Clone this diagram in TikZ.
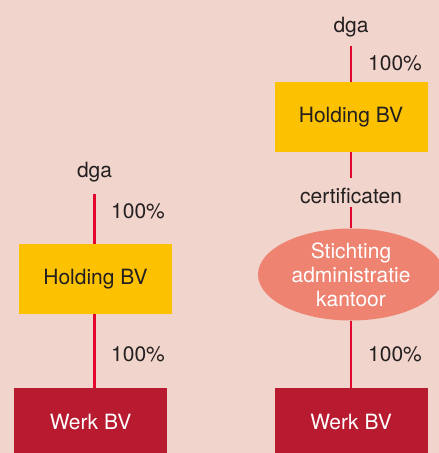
\documentclass[tikz,border=0pt]{standalone}
\usepackage{fontspec}
\setmainfont{TeX Gyre Heros}
\usetikzlibrary{shapes.geometric}

\definecolor{achtergrond}{HTML}{F1D4CB}
\definecolor{geel}{HTML}{FCC100}
\definecolor{wijnrood}{HTML}{B81B30}
\definecolor{zalm}{HTML}{EE8371}
\definecolor{rood}{HTML}{E3062C}
\definecolor{donker}{HTML}{231F20}

\tikzset{
	tekst/.style={font=\fontsize{21}{24}\selectfont, text=donker, inner sep=0pt},
	bv/.style={tekst, minimum width=153pt},
	holding/.style={bv, fill=geel, minimum height=70pt},
	werk/.style={bv, fill=wijnrood, text=white, minimum height=67pt},
	stak/.style={tekst, ellipse, fill=zalm, text=white, align=center, minimum width=186pt, minimum height=92pt},
	lijn/.style={draw=rood, line width=2.6pt},
}

\begin{document}
\begin{tikzpicture}[x=1pt, y=-1pt]
	\fill[achtergrond] (0,0) rectangle (439,453);
	\useasboundingbox (0,0) rectangle (439,453);

	% links: dga - holding - werkmaatschappij
	\node[tekst, anchor=base, text depth=17pt] (dgaL) at (94.5,177) {dga};
	\node[holding] (holdL) at (95.5,279) {Holding BV};
	\node[werk] (werkL) at (90.5,421.5) {Werk BV};
	\draw[lijn] (dgaL.south) -- (dgaL.south |- holdL.north);
	\draw[lijn] (dgaL |- holdL.south) -- (dgaL |- werkL.north);
	\node[tekst, anchor=west] (pctL1) at (111,211) {100\%};
	\node[tekst, anchor=west] (pctL2) at (111,354.5) {100\%};

	% rechts: met stichting administratiekantoor ertussen
	\node[tekst, anchor=base, text depth=13.5pt] (dgaR) at (351,32.5) {dga};
	\node[holding] (holdR) at (351,117) {Holding BV};
	\node[tekst, anchor=base, text height=25pt, text depth=4pt] (certR) at (351,203) {certificaten};
	\node[stak] (stakR) at (351,274.5) {Stichting\\administratie\\kantoor};
	\node[werk] (werkR) at (351,421.5) {Werk BV};
	\draw[lijn] (dgaR) -- (holdR);
	\draw[lijn] (holdR) -- (certR);
	\draw[lijn] (certR) -- (stakR);
	\draw[lijn] (stakR) -- (werkR);
	\node[tekst, anchor=west] (pctR1) at (368,63.5) {100\%};
	\node[tekst, anchor=west] (pctR2) at (368,354) {100\%};
\end{tikzpicture}
\end{document}
